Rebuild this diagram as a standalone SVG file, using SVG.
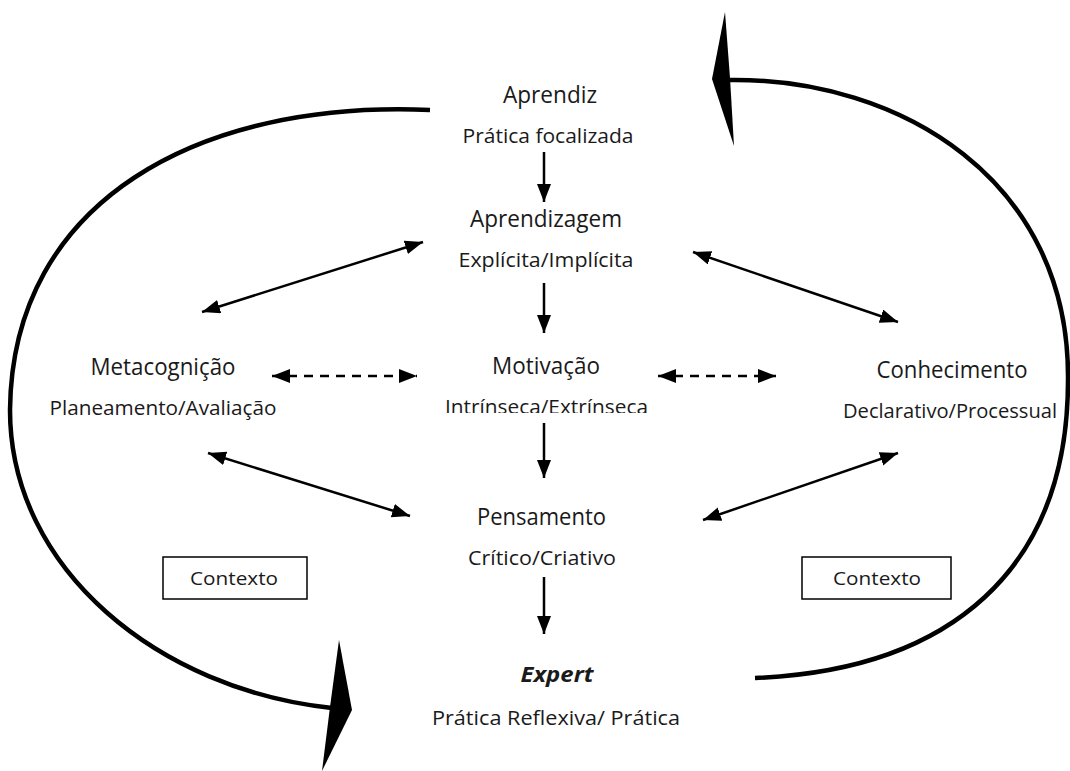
<svg xmlns="http://www.w3.org/2000/svg" width="1070" height="771" viewBox="0 0 1070 771">
<style>
text{font-family:"Open Sans","DejaVu Sans",sans-serif;fill:#1a1a1a;text-anchor:middle}
.t{font-size:23px}
.s{font-size:20px}
.c{font-size:19px}
.ex{font-size:22px;font-weight:bold;font-style:italic}
.ln{stroke:#000;stroke-width:2.5;fill:none}
.dash{stroke-dasharray:9 7}
.arc{stroke:#000;stroke-width:4.5;fill:none}
.box{fill:#fff;stroke:#000;stroke-width:1.5}
</style>
<defs>
<marker id="ah" markerUnits="userSpaceOnUse" markerWidth="20" markerHeight="16" refX="18" refY="7" orient="auto-start-reverse">
<path d="M0,0 L18,7 L0,14 Z" fill="#000"/>
</marker>
<clipPath id="clipM"><rect x="400" y="390" width="300" height="23"/></clipPath>
</defs>
<g id="cycle">
<path class="arc" d="M430,110 C200,100 12,200 10,410 C10,570 160,690 332,708"/>
<polygon points="339,640 352,710 322,771 330,707" fill="#000"/>
<path class="arc" d="M730,80 C900,78 1070,180 1068,380 C1068,570 950,670 755,678"/>
<polygon points="725,12 730,78 734,146 712,79" fill="#000"/>
</g>
<g id="connectors">
<line class="ln" x1="544" y1="152" x2="544" y2="202" marker-end="url(#ah)"/>
<line class="ln" x1="544" y1="283" x2="544" y2="333" marker-end="url(#ah)"/>
<line class="ln" x1="544" y1="423" x2="544" y2="478" marker-end="url(#ah)"/>
<line class="ln" x1="544" y1="577" x2="544" y2="634" marker-end="url(#ah)"/>
<line class="ln" x1="202" y1="312" x2="423" y2="242" marker-start="url(#ah)" marker-end="url(#ah)"/>
<line class="ln" x1="693" y1="252" x2="898" y2="322" marker-start="url(#ah)" marker-end="url(#ah)"/>
<line class="ln dash" x1="272" y1="376" x2="417" y2="376" marker-start="url(#ah)" marker-end="url(#ah)"/>
<line class="ln dash" x1="658" y1="376" x2="776" y2="376" marker-start="url(#ah)" marker-end="url(#ah)"/>
<line class="ln" x1="208" y1="453" x2="410" y2="516" marker-start="url(#ah)" marker-end="url(#ah)"/>
<line class="ln" x1="703" y1="520" x2="898" y2="453" marker-start="url(#ah)" marker-end="url(#ah)"/>
</g>
<g id="aprendiz">
<text class="t" x="550" y="103" textLength="94" lengthAdjust="spacingAndGlyphs">Aprendiz</text>
<text class="s" x="548" y="143" textLength="171" lengthAdjust="spacingAndGlyphs">Prática focalizada</text>
</g>
<g id="aprendizagem">
<text class="t" x="546" y="227" textLength="152" lengthAdjust="spacingAndGlyphs">Aprendizagem</text>
<text class="s" x="546" y="267" textLength="175" lengthAdjust="spacingAndGlyphs">Explícita/Implícita</text>
</g>
<g id="metacognicao">
<text class="t" x="163" y="375" textLength="145" lengthAdjust="spacingAndGlyphs">Metacognição</text>
<text class="s" x="163" y="415" textLength="227" lengthAdjust="spacingAndGlyphs">Planeamento/Avaliação</text>
</g>
<g id="motivacao">
<text class="t" x="546" y="374" textLength="108" lengthAdjust="spacingAndGlyphs">Motivação</text>
<text class="s" x="546.5" y="414" textLength="203" lengthAdjust="spacingAndGlyphs" clip-path="url(#clipM)">Intrínseca/Extrínseca</text>
</g>
<g id="conhecimento">
<text class="t" x="952" y="378" textLength="151" lengthAdjust="spacingAndGlyphs">Conhecimento</text>
<text class="s" x="950" y="418" textLength="214" lengthAdjust="spacingAndGlyphs">Declarativo/Processual</text>
</g>
<g id="pensamento">
<text class="t" x="541.5" y="525" textLength="129" lengthAdjust="spacingAndGlyphs">Pensamento</text>
<text class="s" x="542" y="565" textLength="148" lengthAdjust="spacingAndGlyphs">Crítico/Criativo</text>
</g>
<g id="expert">
<text class="ex" x="557" y="682" textLength="73" lengthAdjust="spacingAndGlyphs">Expert</text>
<text class="s" x="556" y="725" textLength="248" lengthAdjust="spacingAndGlyphs">Prática Reflexiva/ Prática</text>
</g>
<g id="contexto-left">
<rect class="box" x="163" y="557" width="144" height="42"/>
<text class="c" x="234" y="585" textLength="88" lengthAdjust="spacingAndGlyphs">Contexto</text>
</g>
<g id="contexto-right">
<rect class="box" x="802" y="557" width="149" height="42"/>
<text class="c" x="877" y="585" textLength="88" lengthAdjust="spacingAndGlyphs">Contexto</text>
</g>
</svg>
